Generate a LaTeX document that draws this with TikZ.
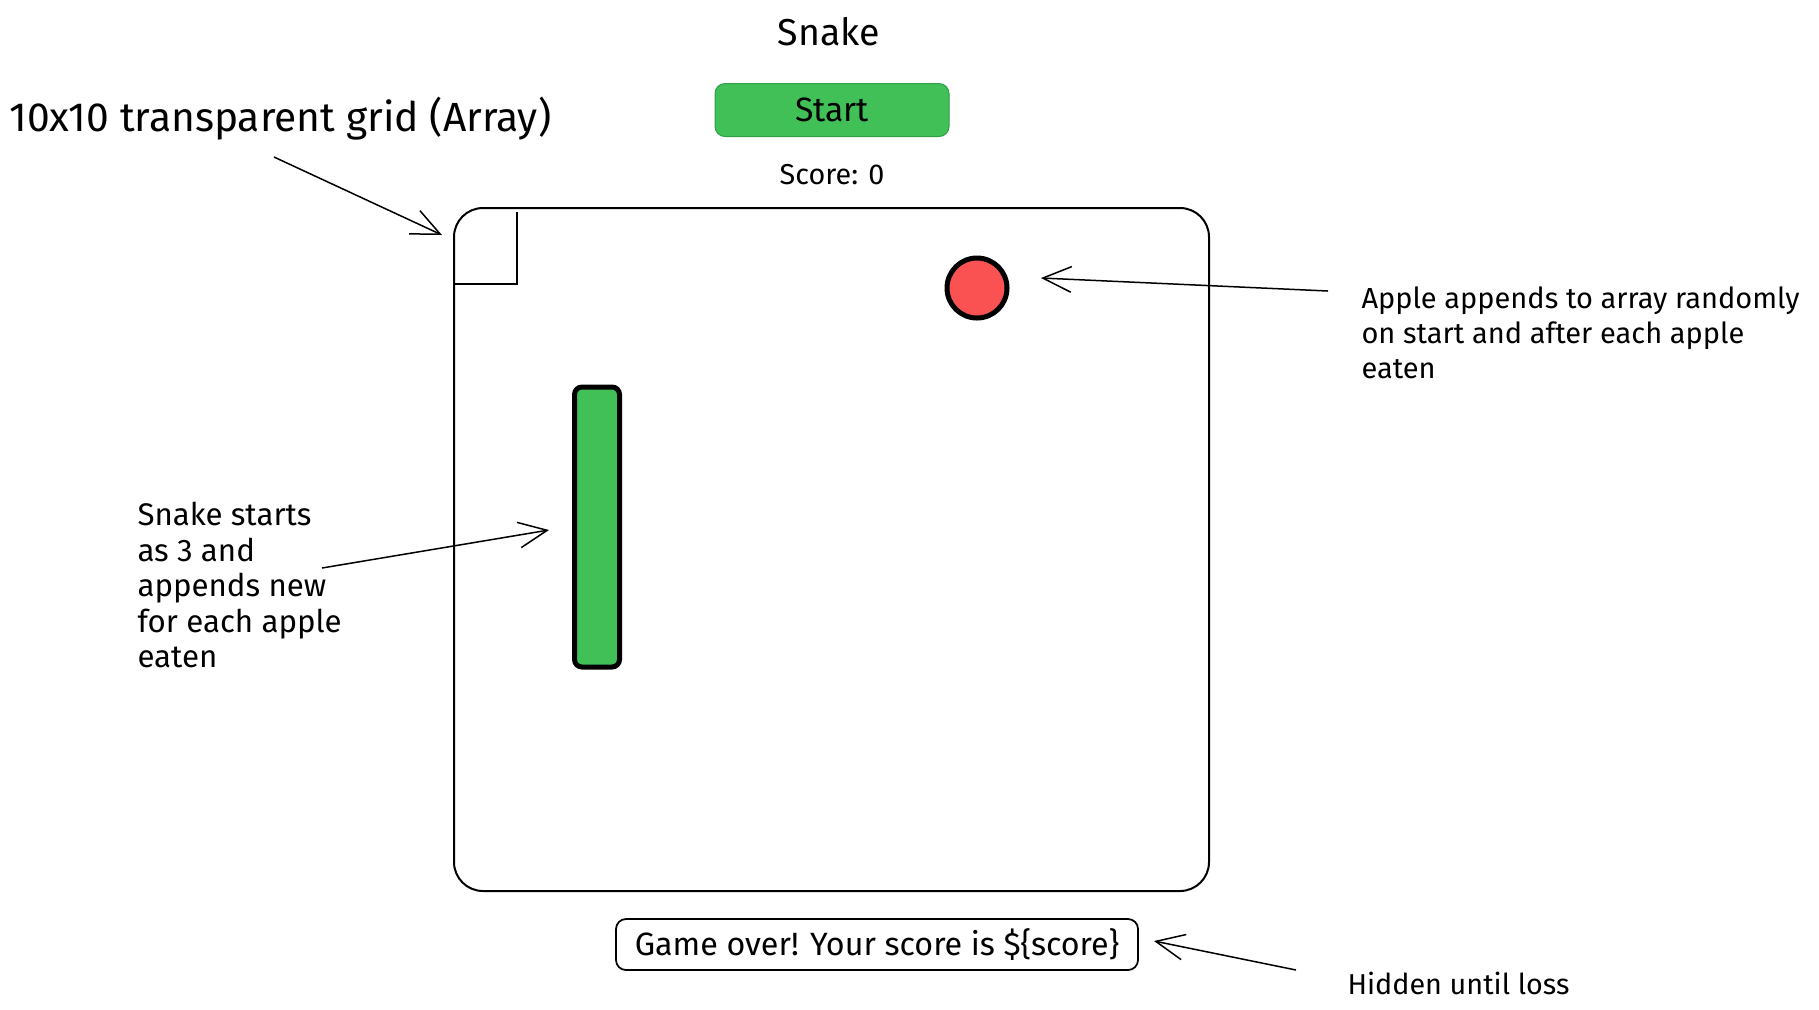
\documentclass[tikz,border=0pt]{standalone}
\usepackage{fontspec}
\setmainfont{Fira Sans}
\usetikzlibrary{arrows.meta,positioning}
\definecolor{snakegreen}{RGB}{64,192,87}
\definecolor{btnedge}{RGB}{47,158,68}
\definecolor{applered}{RGB}{250,82,82}

\begin{document}
\begin{tikzpicture}[
  x=0.4pt, y=-0.4pt,
  label/.style={font=\fontsize{12.5}{14.2}\selectfont, align=left, inner sep=0pt},
  button/.style={draw=btnedge, rounded corners=4pt, fill=snakegreen, minimum width=93.6pt, minimum height=21.2pt, font=\fontsize{13.5}{15}\selectfont},
  board/.style={draw, line width=0.8pt, rounded corners=11.6pt, minimum width=302pt, minimum height=273.2pt},
  apple/.style={draw, circle, line width=2pt, fill=applered, minimum size=24pt, inner sep=0pt},
  body/.style={draw, line width=2pt, rounded corners=3pt, fill=snakegreen, minimum width=18pt, minimum height=112pt},
  msgbox/.style={draw, line width=0.7pt, rounded corners=4pt, minimum width=208.8pt, minimum height=20.4pt, font=\fontsize{12.9}{15}\selectfont},
  arrow/.style={-{Straight Barb[length=4mm, width=3.6mm]}, line width=0.6pt}
]
\useasboundingbox (0,0) rectangle (1819,1009);

% header
\node[font=\fontsize{15}{18}\selectfont] (title) at (829,32) {Snake};
\node[button] (start) at (832,110) {Start};
\node[font=\fontsize{11.5}{14}\selectfont] (score) at (832,175) {Score: 0};

% game area
\node[board] (grid) at (831.5,549.5) {};
\draw[line width=0.8pt] (454,284) -- (517,284) -- (517,212);
\node[apple] (apple) at (977,288) {};
\node[body] (snake) at (597,527) {};
\node[msgbox] (over) at (877,944.5) {Game over! Your score is \$\{score\}};

% notes
\node[label, anchor=west, font=\fontsize{16.3}{20}\selectfont] (gridnote) at (9,119) {10x10 transparent grid (Array)};
\node[label, anchor=north west, font=\fontsize{11.6}{14}\selectfont] (applenote) at (1361,286) {Apple appends to array randomly\\
on start and after each apple\\
eaten};
\node[label, anchor=north west] (snakenote) at (137,502) {Snake starts\\
as 3 and\\
appends new\\
for each apple\\
eaten};
\node[label, anchor=west, font=\fontsize{11.5}{14}\selectfont] (hidenote) at (1347,983) {Hidden until loss};

\coordinate (gridtail) at (274,157);
\coordinate (gridtip) at (442,235);
\coordinate (appletail) at (1328,291);
\coordinate (appletip) at (1041,278);
\coordinate (snaketail) at (322,568);
\coordinate (snaketip) at (549,530);
\coordinate (hidetail) at (1296,970);
\coordinate (hidetip) at (1154,941);

\draw[arrow] (gridtail) -- (gridtip);
\draw[arrow] (appletail) -- (appletip);
\draw[arrow] (snaketail) -- (snaketip);
\draw[arrow] (hidetail) -- (hidetip);
\end{tikzpicture}
\end{document}
